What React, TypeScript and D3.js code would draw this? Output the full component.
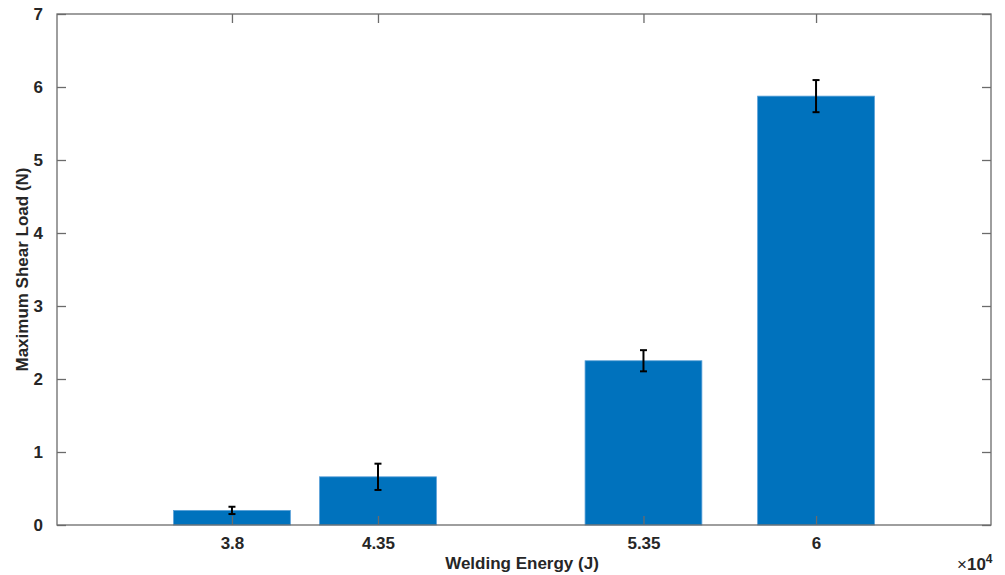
import React, { useEffect, useRef } from 'react';
import * as d3 from 'd3';

const energies = [3.8, 4.35, 5.35, 6];
const shearLoad = [0.2, 0.66, 2.25, 5.875];
const loadError = [0.05, 0.18, 0.145, 0.22];
const yTicks = [0, 1, 2, 3, 4, 5, 6, 7];
const xTickLabels = ['3.8', '4.35', '5.35', '6'];

const App = () => {
  const ref = useRef<SVGSVGElement | null>(null);

  useEffect(() => {
    const width = 1005;
    const height = 575;
    const margin = { top: 14, right: 14, bottom: 50, left: 57 };
    const innerW = width - margin.left - margin.right;
    const innerH = height - margin.top - margin.bottom;
    const font = '"Liberation Sans", Arial, Helvetica, sans-serif';
    const axisColor = '#6b6b6b';

    const svg = d3.select(ref.current);
    svg.selectAll('*').remove();

    const x = d3.scaleLinear().domain([3.141, 6.659]).range([0, innerW]);
    const y = d3.scaleLinear().domain([0, 7]).range([innerH, 0]);
    const barW = x(3.8 + 0.44) - x(3.8);

    const g = svg.append('g').attr('transform', `translate(${margin.left},${margin.top})`);

    // bars
    g.selectAll('rect.bar')
      .data(energies)
      .enter()
      .append('rect')
      .attr('class', 'bar')
      .attr('x', (d) => x(d) - barW / 2)
      .attr('y', (d, i) => y(shearLoad[i]))
      .attr('width', barW)
      .attr('height', (d, i) => innerH - y(shearLoad[i]))
      .attr('fill', '#0072BD')
      .attr('stroke', '#5aa0d8')
      .attr('stroke-width', 0.8);

    // error bars
    const eb = g.selectAll('g.err').data(energies).enter().append('g');
    const cap = 3.5;
    eb.append('line')
      .attr('x1', (d) => x(d))
      .attr('x2', (d) => x(d))
      .attr('y1', (d, i) => y(shearLoad[i] - loadError[i]))
      .attr('y2', (d, i) => y(shearLoad[i] + loadError[i]));
    eb.append('line')
      .attr('x1', (d) => x(d) - cap)
      .attr('x2', (d) => x(d) + cap)
      .attr('y1', (d, i) => y(shearLoad[i] + loadError[i]))
      .attr('y2', (d, i) => y(shearLoad[i] + loadError[i]));
    eb.append('line')
      .attr('x1', (d) => x(d) - cap)
      .attr('x2', (d) => x(d) + cap)
      .attr('y1', (d, i) => y(shearLoad[i] - loadError[i]))
      .attr('y2', (d, i) => y(shearLoad[i] - loadError[i]));
    eb.selectAll('line').attr('stroke', '#000').attr('stroke-width', 2);

    // axes box
    g.append('rect')
      .attr('width', innerW)
      .attr('height', innerH)
      .attr('fill', 'none')
      .attr('stroke', axisColor)
      .attr('stroke-width', 1.3);

    const tickLen = 9;
    const styleAxis = (sel: any) => {
      sel.select('.domain').remove();
      sel.selectAll('.tick line').attr('stroke', axisColor).attr('stroke-width', 1.3);
      sel.selectAll('.tick text')
        .style('font-family', font)
        .style('font-size', '17px')
        .style('font-weight', 'bold')
        .attr('fill', '#262626');
    };

    g.append('g')
      .attr('transform', `translate(0,${innerH})`)
      .call(
        d3.axisBottom(x)
          .tickValues(energies)
          .tickSize(-tickLen)
          .tickPadding(12)
          .tickFormat((d, i) => xTickLabels[i])
      )
      .call(styleAxis);

    g.append('g')
      .call(d3.axisTop(x).tickValues(energies).tickSize(-tickLen).tickFormat(() => ''))
      .call(styleAxis);

    g.append('g')
      .call(d3.axisLeft(y).tickValues(yTicks).tickSize(-tickLen).tickPadding(14).tickFormat(d3.format('d')))
      .call(styleAxis);

    g.append('g')
      .attr('transform', `translate(${innerW},0)`)
      .call(d3.axisRight(y).tickValues(yTicks).tickSize(-tickLen).tickFormat(() => ''))
      .call(styleAxis);

    // labels
    svg.append('text')
      .attr('x', margin.left + innerW / 2 - 2)
      .attr('y', 569)
      .attr('text-anchor', 'middle')
      .style('font-family', font)
      .style('font-size', '17px')
      .style('font-weight', 'bold')
      .attr('fill', '#262626')
      .text('Welding Energy (J)');

    svg.append('text')
      .attr('transform', `translate(28,${margin.top + innerH / 2}) rotate(-90)`)
      .attr('text-anchor', 'middle')
      .style('font-family', font)
      .style('font-size', '17px')
      .style('font-weight', 'bold')
      .attr('fill', '#262626')
      .text('Maximum Shear Load (N)');

    const exp = svg.append('text')
      .attr('x', 957)
      .attr('y', 570)
      .style('font-family', font)
      .style('font-size', '17px')
      .attr('fill', '#262626');
    exp.append('tspan').text('×');
    exp.append('tspan').style('font-weight', 'bold').text('10');
    exp.append('tspan').style('font-weight', 'bold').style('font-size', '12px').attr('dy', -7).text('4');
  }, []);

  return (
    <div style={{ position: 'fixed', left: 0, top: 0, width: 1005, height: 575, background: '#fff' }}>
      <svg ref={ref} width={1005} height={575} style={{ display: 'block' }} />
    </div>
  );
};

export default App;
